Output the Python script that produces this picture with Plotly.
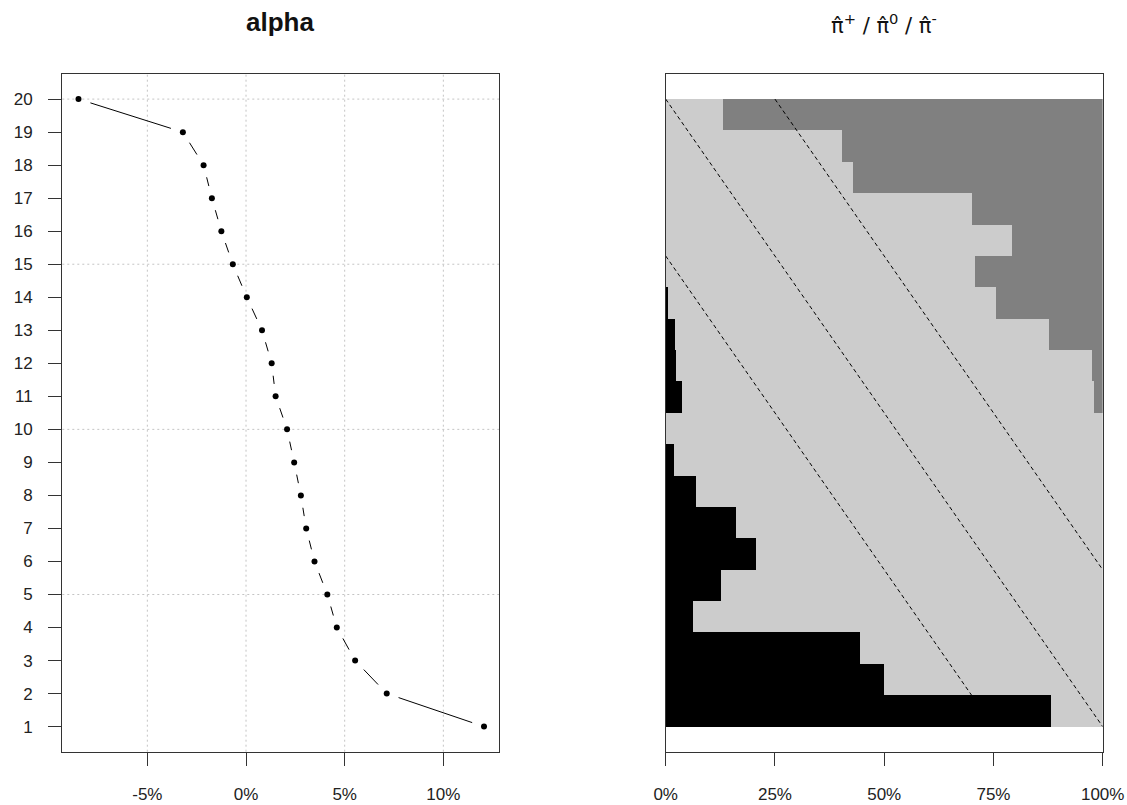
import plotly.graph_objects as go

# ---------------- data ----------------
rows = list(range(1, 21))
alpha_pct = [12.06, 7.13, 5.53, 4.60, 4.12, 3.47, 3.05, 2.78, 2.44, 2.08,
             1.50, 1.30, 0.81, 0.04, -0.67, -1.25, -1.73, -2.15, -3.20, -8.49]
pi_plus = [0.881, 0.499, 0.445, 0.062, 0.125, 0.205, 0.161, 0.068, 0.018, 0.0,
           0.036, 0.022, 0.020, 0.005, 0.0, 0.0, 0.0, 0.0, 0.0, 0.0]
pi_minus = [0.0, 0.0, 0.0, 0.0, 0.0, 0.0, 0.0, 0.0, 0.0, 0.0,
            0.020, 0.025, 0.124, 0.246, 0.294, 0.208, 0.300, 0.572, 0.597, 0.870]
pi_zero = [round(1 - a - b, 3) for a, b in zip(pi_plus, pi_minus)]

ref_lines_x = [[0.0, 1.0], [0.25, 1.0], [0.0, 0.75]]
ref_lines_y = [[20, 0], [20, 5], [15, 0]]

left_xticks = [-5, 0, 5, 10]
left_xticktext = ["-5%", "0%", "5%", "10%"]
right_xticks = [0, 0.25, 0.5, 0.75, 1.0]
right_xticktext = ["0%", "25%", "50%", "75%", "100%"]
grid_x = [-5, 0, 5, 10]
grid_y = [5, 10, 15, 20]

# ---------------- layout constants ----------------
W, H = 1127, 805
LX = [62.3 / W, 499.0 / W]
RX = [665.7 / W, 1102.7 / W]
DY = [(H - 751.7) / H, (H - 74.0) / H]
L_XR = [-9.31, 12.82]
L_YR = [0.24, 20.76]
R_XR = [0, 1]
R_YR = [-0.8, 20.8]

FONT = "Liberation Sans, Arial, sans-serif"
TXT = "#222222"
BOX = "#333333"

fig = go.Figure()

# ---- left panel: line with gaps around points (R type="b") ----
sx = (LX[1] - LX[0]) * W / (L_XR[1] - L_XR[0])
sy = (DY[1] - DY[0]) * H / (L_YR[1] - L_YR[0])
gap = 12.5
seg_x, seg_y = [], []
for i in range(len(rows) - 1):
    x1, y1, x2, y2 = alpha_pct[i], rows[i], alpha_pct[i + 1], rows[i + 1]
    dx, dy = (x2 - x1) * sx, (y2 - y1) * sy
    L = (dx * dx + dy * dy) ** 0.5
    if L <= 2 * gap:
        continue
    f = gap / L
    seg_x += [x1 + (x2 - x1) * f, x2 - (x2 - x1) * f, None]
    seg_y += [y1 + (y2 - y1) * f, y2 - (y2 - y1) * f, None]

fig.add_trace(go.Scatter(x=seg_x, y=seg_y, mode="lines",
                         line=dict(color="black", width=1),
                         xaxis="x", yaxis="y", showlegend=False, hoverinfo="skip"))
fig.add_trace(go.Scatter(x=alpha_pct, y=rows, mode="markers",
                         marker=dict(color="black", size=6, line=dict(width=0)),
                         xaxis="x", yaxis="y", showlegend=False))

# grid (dotted, lightgray)
shapes = []
for gx in grid_x:
    shapes.append(dict(type="line", xref="x", yref="y domain", x0=gx, x1=gx, y0=0, y1=1,
                       line=dict(color="#c4c4c4", width=1, dash="2px,3px"), layer="below"))
for gy in grid_y:
    shapes.append(dict(type="line", xref="x domain", yref="y", x0=0, x1=1, y0=gy, y1=gy,
                       line=dict(color="#c4c4c4", width=1, dash="2px,3px"), layer="below"))

# ---- right panel: stacked proportions ----
ycent = [r - 0.5 for r in rows]
for vals, col in [(pi_plus, "#000000"), (pi_zero, "#cccccc"), (pi_minus, "#808080")]:
    fig.add_trace(go.Bar(x=vals, y=ycent, orientation="h", width=1.0,
                         marker=dict(color=col, line=dict(width=0)),
                         xaxis="x2", yaxis="y2", showlegend=False))

for lx, ly in zip(ref_lines_x, ref_lines_y):
    fig.add_trace(go.Scatter(x=lx, y=ly, mode="lines",
                             line=dict(color="black", width=1, dash="4px,3px"),
                             xaxis="x2", yaxis="y2", showlegend=False, hoverinfo="skip"))

axis_common = dict(showline=True, mirror=True, linecolor=BOX, linewidth=1.3,
                   ticks="outside", ticklen=13, tickcolor=BOX, tickwidth=1.3,
                   tickfont=dict(family=FONT, size=17, color=TXT),
                   zeroline=False, showgrid=False, fixedrange=True, automargin=False)

fig.update_layout(
    template="none",
    width=W, height=H,
    autosize=False,
    margin=dict(l=0, r=0, t=0, b=0, pad=0, autoexpand=False),
    paper_bgcolor="white", plot_bgcolor="white",
    barmode="stack", bargap=0,
    shapes=shapes,
    xaxis=dict(domain=LX, range=L_XR, tickmode="array", tickvals=left_xticks,
               ticktext=left_xticktext, anchor="y", ticklabelstandoff=14, **axis_common),
    yaxis=dict(domain=DY, range=L_YR, tickmode="array", tickvals=rows,
               ticktext=[str(r) for r in rows], anchor="x", ticklabelstandoff=12,
               **axis_common),
    xaxis2=dict(domain=RX, range=R_XR, tickmode="array", tickvals=right_xticks,
                ticktext=right_xticktext, anchor="y2", ticklabelstandoff=14, **axis_common),
    yaxis2=dict(domain=DY, range=R_YR, anchor="x2", showline=True, mirror=True,
                linecolor=BOX, linewidth=1.3, showticklabels=False, ticks="",
                showgrid=False, zeroline=False, fixedrange=True, automargin=False),
    annotations=[
        dict(text="<b>alpha</b>", xref="paper", yref="paper",
             x=279.7 / W, y=1 - 22 / H, xanchor="center", yanchor="middle",
             showarrow=False, font=dict(family=FONT, size=26, color="#111111")),
        dict(text="\u03c0\u0302<sup>+</sup> / \u03c0\u0302<sup>0</sup> / \u03c0\u0302<sup>-</sup>",
             xref="paper", yref="paper",
             x=883.7 / W, y=1 - 24 / H, xanchor="center", yanchor="middle",
             showarrow=False, font=dict(family="DejaVu Sans", size=21, color="#111111")),
    ],
)

fig.write_html(
    "out.html",
    config={"displayModeBar": False, "responsive": False},
    post_script="document.body.style.margin='0';document.body.style.padding='0';"
                "document.documentElement.style.overflow='hidden';"
                "document.body.style.overflow='hidden';",
)
